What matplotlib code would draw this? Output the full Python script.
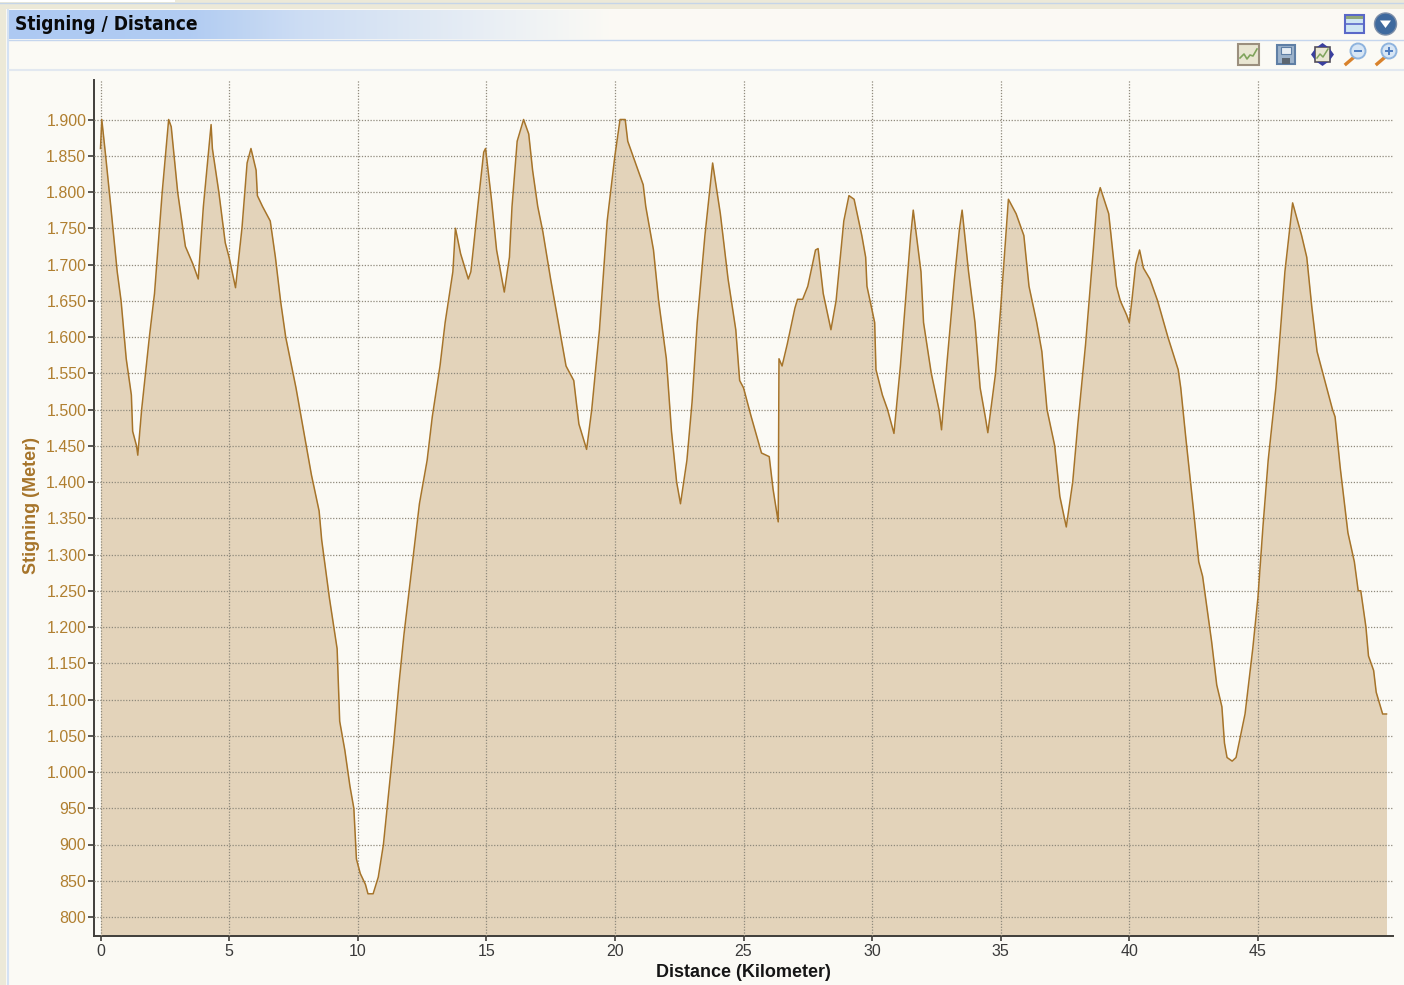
import numpy as np
import matplotlib
matplotlib.use("Agg")
import matplotlib.pyplot as plt
from matplotlib.patches import Rectangle, Circle, Polygon
from matplotlib.ticker import FuncFormatter

distance_km = [0.0, 0.05, 0.2, 0.4, 0.65, 0.8, 1.0, 1.2, 1.25, 1.4, 1.45, 1.6, 1.9, 2.1, 2.4, 2.65, 2.75, 3.0, 3.2, 3.3,
    3.6, 3.8, 4.0, 4.3, 4.35, 4.6, 4.85, 5.0, 5.25, 5.5, 5.7, 5.85, 6.05, 6.1, 6.3, 6.6, 6.8, 7.0, 7.2, 7.6,
    7.8, 8.0, 8.2, 8.5, 8.6, 8.9, 9.2, 9.25, 9.3, 9.5, 9.7, 9.85, 9.95, 10.1, 10.3, 10.4, 10.6, 10.8, 11.0, 11.2,
    11.4, 11.6, 11.8, 12.0, 12.2, 12.4, 12.7, 12.9, 13.2, 13.4, 13.7, 13.8, 14.0, 14.3, 14.4, 14.7, 14.9, 14.97, 15.2, 15.4,
    15.7, 15.9, 16.0, 16.2, 16.45, 16.65, 16.8, 17.0, 17.2, 17.5, 17.8, 18.1, 18.4, 18.6, 18.9, 19.1, 19.4, 19.7, 20.0, 20.2,
    20.4, 20.5, 20.8, 21.1, 21.2, 21.5, 21.7, 22.0, 22.2, 22.4, 22.55, 22.8, 23.0, 23.2, 23.5, 23.8, 24.1, 24.4, 24.7, 24.85,
    25.0, 25.3, 25.7, 26.0, 26.15, 26.35, 26.38, 26.5, 26.7, 27.0, 27.1, 27.3, 27.5, 27.8, 27.9, 28.1, 28.4, 28.6, 28.9, 29.1,
    29.3, 29.6, 29.75, 29.8, 30.1, 30.15, 30.4, 30.6, 30.85, 31.1, 31.3, 31.5, 31.6, 31.9, 32.0, 32.3, 32.6, 32.7, 32.9, 33.2,
    33.4, 33.5, 33.75, 34.0, 34.2, 34.4, 34.5, 34.8, 35.0, 35.2, 35.3, 35.6, 35.9, 36.1, 36.4, 36.6, 36.8, 37.1, 37.3, 37.55,
    37.8, 38.0, 38.3, 38.6, 38.75, 38.87, 39.2, 39.5, 39.65, 39.9, 40.0, 40.1, 40.25, 40.4, 40.55, 40.8, 41.1, 41.5, 41.9, 42.0,
    42.2, 42.5, 42.7, 42.85, 43.2, 43.4, 43.6, 43.7, 43.8, 44.0, 44.15, 44.5, 44.8, 45.0, 45.2, 45.4, 45.7, 45.9, 46.05, 46.35,
    46.7, 46.9, 47.1, 47.3, 47.6, 47.9, 48.0, 48.2, 48.5, 48.75, 48.9, 49.0, 49.2, 49.3, 49.5, 49.6, 49.85, 50.0]

elevation_m = [1860, 1900, 1850, 1780, 1690, 1650, 1570, 1520, 1470, 1450, 1437, 1500, 1600, 1660, 1800, 1900, 1890, 1800, 1750, 1725,
    1700, 1680, 1780, 1893, 1860, 1800, 1730, 1710, 1668, 1750, 1840, 1860, 1830, 1795, 1780, 1760, 1710, 1650, 1600, 1530,
    1490, 1450, 1410, 1360, 1320, 1240, 1170, 1120, 1070, 1030, 980, 950, 880, 860, 845, 832, 832, 855, 900, 970,
    1040, 1120, 1190, 1250, 1310, 1370, 1430, 1490, 1560, 1620, 1690, 1750, 1715, 1680, 1690, 1790, 1855, 1860, 1790, 1720,
    1662, 1710, 1780, 1870, 1900, 1880, 1830, 1780, 1745, 1680, 1620, 1560, 1540, 1480, 1445, 1500, 1610, 1760, 1850, 1900,
    1900, 1870, 1840, 1810, 1780, 1720, 1650, 1570, 1470, 1400, 1370, 1430, 1510, 1620, 1740, 1840, 1770, 1680, 1610, 1540,
    1530, 1490, 1440, 1435, 1390, 1345, 1570, 1560, 1590, 1640, 1652, 1652, 1670, 1720, 1722, 1660, 1610, 1650, 1760, 1795,
    1790, 1740, 1710, 1670, 1620, 1555, 1520, 1500, 1467, 1560, 1650, 1740, 1775, 1690, 1620, 1550, 1500, 1472, 1560, 1680,
    1750, 1775, 1690, 1620, 1530, 1490, 1468, 1550, 1640, 1740, 1790, 1770, 1740, 1670, 1620, 1580, 1500, 1450, 1380, 1338,
    1400, 1480, 1590, 1720, 1790, 1806, 1770, 1670, 1650, 1630, 1620, 1650, 1700, 1720, 1695, 1680, 1650, 1600, 1555, 1530,
    1460, 1360, 1290, 1270, 1180, 1120, 1090, 1040, 1020, 1015, 1020, 1080, 1170, 1240, 1340, 1430, 1530, 1620, 1690, 1785,
    1740, 1710, 1640, 1580, 1540, 1500, 1490, 1420, 1330, 1290, 1250, 1250, 1200, 1160, 1140, 1110, 1080, 1080]

x_ticks = [0, 5, 10, 15, 20, 25, 30, 35, 40, 45]
y_ticks = list(range(800, 1901, 50))

title = "Stigning / Distance"
x_label = "Distance (Kilometer)"
y_label = "Stigning (Meter)"

W, H = 1404, 985
BG = "#FBFAF5"
FILL = "#E3D3BA"
LINE = "#A6742A"
GOLD = "#B07F30"
FONT = ["Liberation Sans", "DejaVu Sans"]
plt.rcParams["font.family"] = FONT

fig = plt.figure(figsize=(W / 100, H / 100), dpi=100, facecolor=BG)

# Window chrome, drawn in pixel coordinates
chrome = fig.add_axes([0, 0, 1, 1], zorder=0)
chrome.set_xlim(0, W)
chrome.set_ylim(H, 0)
chrome.axis("off")
chrome.add_patch(Rectangle((0, 0), W, 9, fc="#ECE9D8", ec="none"))
chrome.add_patch(Rectangle((0, 0), 6, H, fc="#ECE9D8", ec="none"))
chrome.add_patch(Rectangle((0, 0), 175, 2, fc="#FFFFFF", ec="none"))
chrome.plot([0, W], [2.5, 2.5], color="#C5D5E8", lw=1)
chrome.plot([8, 8], [10, H], color="#D5E2F3", lw=1.5)
px_grad = np.arange(9, W)
c0 = np.array([0.68, 0.79, 0.95])
c1 = np.array([0.985, 0.98, 0.96])
ramp = np.interp(px_grad, [9, 190, 300, 610], [0, 0.05, 0.4, 1])[None, :, None]
chrome.imshow(c0 + (c1 - c0) * ramp, extent=(9, W, 39, 10), aspect="auto", zorder=1)
chrome.set_xlim(0, W)
chrome.set_ylim(H, 0)
chrome.plot([9, W], [39.5, 39.5], color="#C5D6EE", lw=1, zorder=2)
chrome.plot([9, W], [70, 70], color="#E2E8F0", lw=1.5, zorder=2)
chrome.text(15, 24.5, title, fontsize=13.7, fontweight="bold", color="#0A0A0A", va="center", ha="left",
            family=["DejaVu Sans"], fontstretch="condensed", zorder=3)

# Window buttons
chrome.add_patch(Rectangle((1345, 15), 19, 18, fc="#CFE6F3", ec="#5A68C8", lw=1.5, zorder=3))
chrome.add_patch(Rectangle((1346, 16), 17, 3, fc="#8FA67A", ec="none", zorder=4))
chrome.plot([1345, 1364], [24, 24], color="#5A68C8", lw=1.2, zorder=4)
chrome.add_patch(Circle((1385.5, 24), 11, fc="#3F6A9E", ec="#7E8FA8", lw=1, zorder=3))
chrome.add_patch(Polygon([[1380, 20.5], [1391, 20.5], [1385.5, 28]], fc="white", ec="none", zorder=4))

# Toolbar icons
chrome.add_patch(Rectangle((1238, 44), 21, 21, fc="#E9E6D2", ec="#9B8F7E", lw=1.5, zorder=3))
chrome.plot([1240, 1244, 1247, 1250, 1253, 1257], [58, 54, 59, 55, 56, 49], color="#7FA35B", lw=1.2, zorder=4)
chrome.add_patch(Rectangle((1277, 45), 18, 19, fc="#9DB3CB", ec="#5F7FA5", lw=1.5, zorder=3))
chrome.add_patch(Rectangle((1281, 47), 10, 7, fc="#E8EEF3", ec="#5F7FA5", lw=0.8, zorder=4))
chrome.add_patch(Rectangle((1282, 58), 8, 6, fc="#5C6670", ec="none", zorder=4))
chrome.add_patch(Rectangle((1315, 47), 15, 15, fc="#E9E6D2", ec="#55505A", lw=1.2, zorder=3))
chrome.plot([1317, 1320, 1323, 1328], [58, 54, 57, 49], color="#7FA35B", lw=1.1, zorder=4)
for tri in ([[1317, 47], [1328, 47], [1322.5, 43]], [[1317, 62], [1328, 62], [1322.5, 66]],
            [[1315, 49], [1315, 60], [1311, 54.5]], [[1330, 49], [1330, 60], [1334, 54.5]]):
    chrome.add_patch(Polygon(tri, fc="#3A3F9E", ec="none", zorder=4))
for cx, plus in ((1358, False), (1389, True)):
    chrome.plot([cx - 12, cx - 5], [64, 58], color="#D9822B", lw=2.4, zorder=3)
    chrome.add_patch(Circle((cx, 51), 7.5, fc="#D7E6F5", ec="#8FB4DE", lw=1.4, zorder=4))
    chrome.plot([cx - 3, cx + 3], [51, 51], color="#4D7CC0", lw=1.4, zorder=5)
    if plus:
        chrome.plot([cx, cx], [48, 54], color="#4D7CC0", lw=1.4, zorder=5)

# Plot area
L, R, T, B = 94, 1393, 80, 936
ax = fig.add_axes([L / W, 1 - B / H, (R - L) / W, (B - T) / H], zorder=1)
ax.set_facecolor(BG)
px_km, px_m = 25.72, 0.725
ax.set_xlim((L - 100.5) / px_km, (R - 100.5) / px_km)
ax.set_ylim(1900 - (B - 119.5) / px_m, 1900 - (T - 119.5) / px_m)

ax.fill_between(distance_km, elevation_m, ax.get_ylim()[0], color=FILL, lw=0, zorder=1)
ax.plot(distance_km, elevation_m, color=LINE, lw=1.1, zorder=3)

ax.set_xticks(x_ticks)
ax.set_yticks(y_ticks)
ax.yaxis.set_major_formatter(FuncFormatter(lambda v, _: f"{int(v):,}".replace(",", ".")))
ax.grid(True, color="#8F8A7C", ls=(0, (1, 1.3)), lw=0.9, zorder=2)
ax.set_axisbelow(False)
for s in ("top", "right"):
    ax.spines[s].set_visible(False)
for s in ("left", "bottom"):
    ax.spines[s].set_linewidth(1.4)
    ax.spines[s].set_color("#403E3A")
ax.tick_params(axis="y", length=4.5, width=1.2, color="#403E3A", labelcolor=GOLD, labelsize=11.5, pad=1)
ax.tick_params(axis="x", length=3.5, width=1.2, color="#403E3A", labelcolor="#3A3A3A", labelsize=11.5, pad=2.5)

fig.text(743 / W, 1 - 972.5 / H, x_label, ha="center", va="center", fontsize=13, fontweight="bold", color="#151515")
fig.text(31 / W, 1 - 506 / H, y_label, ha="center", va="center", rotation=90, fontsize=13, fontweight="bold", color=LINE)

fig.savefig("out.png", dpi=100, facecolor=BG)
